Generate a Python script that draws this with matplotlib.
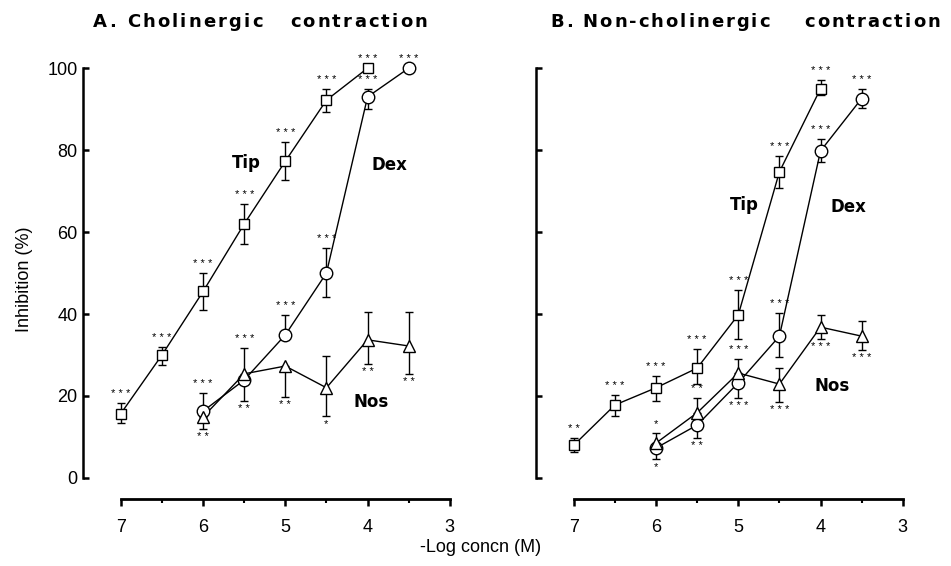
import matplotlib.pyplot as plt
import numpy as np

plt.rcParams['font.family'] = ['Liberation Sans', 'DejaVu Sans']

conc = [7, 6.5, 6, 5.5, 5, 4.5, 4, 3.5]

# ---- panel A: cholinergic contraction ----
a_tip_x = [7, 6.5, 6, 5.5, 5, 4.5, 4]
a_tip_y = [15.7, 30, 45.5, 62, 77.3, 92.2, 100]
a_tip_lo = [2.3, 2.4, 4.5, 4.8, 4.5, 3.0, 0]
a_tip_hi = [2.5, 2.0, 4.4, 4.8, 4.6, 2.8, 0]
a_tip_st = ['***', '***', '***', '***', '***', '***', '***']
a_tip_pos = ['up', 'up', 'up', 'up', 'up', 'up', 'up']

a_dex_x = [6, 5.5, 5, 4.5, 4, 3.5]
a_dex_y = [16.3, 23.9, 34.9, 50, 93, 100]
a_dex_lo = [0, 0, 0, 5.9, 3.0, 0]
a_dex_hi = [4.4, 7.8, 4.9, 6.0, 2.0, 0]
a_dex_st = ['***', '***', '***', '***', '***', '***']
a_dex_pos = ['up', 'up', 'up', 'up', 'up', 'up']

a_nos_x = [6, 5.5, 5, 4.5, 4, 3.5]
a_nos_y = [14.9, 25.4, 27.3, 22, 33.7, 32.2]
a_nos_lo = [2.9, 6.6, 7.5, 6.9, 5.9, 6.8]
a_nos_hi = [0, 0, 0, 7.8, 6.8, 8.3]
a_nos_st = ['**', '**', '**', '*', '**', '**']
a_nos_pos = ['down', 'down', 'down', 'down', 'down', 'down']

# ---- panel B: non-cholinergic contraction ----
b_tip_x = [7, 6.5, 6, 5.5, 5, 4.5, 4]
b_tip_y = [8, 17.8, 22, 26.8, 39.8, 74.7, 95]
b_tip_lo = [1.7, 2.7, 3.2, 3.9, 5.9, 3.9, 1.6]
b_tip_hi = [1.8, 2.4, 2.9, 4.7, 6.1, 3.8, 2.0]
b_tip_st = ['**', '***', '***', '***', '***', '***', '***']
b_tip_pos = ['up', 'up', 'up', 'up', 'up', 'up', 'up']

b_dex_x = [6, 5.5, 5, 4.5, 4, 3.5]
b_dex_y = [7.3, 12.9, 23.2, 34.6, 79.8, 92.6]
b_dex_lo = [2.7, 3.1, 3.7, 5.1, 2.8, 2.2]
b_dex_hi = [0, 0, 0, 5.6, 2.8, 2.2]
b_dex_st = ['*', '**', '***', '***', '***', '***']
b_dex_pos = ['down', 'down', 'down', 'up', 'up', 'up']

b_nos_x = [6, 5.5, 5, 4.5, 4, 3.5]
b_nos_y = [8.5, 15.9, 25.6, 22.9, 36.8, 34.6]
b_nos_lo = [0, 0, 0, 4.4, 2.9, 3.4]
b_nos_hi = [2.5, 3.6, 3.4, 3.9, 3.0, 3.7]
b_nos_st = ['*', '**', '***', '***', '***', '***']
b_nos_pos = ['up', 'up', 'up', 'down', 'down', 'down']

yticks = [0, 20, 40, 60, 80, 100]
xticks = [7, 6, 5, 4, 3]

fig = plt.figure(figsize=(9.51, 5.66), dpi=100)
axA = fig.add_axes([0.0873, 0.118, 0.390, 0.776])
axB = fig.add_axes([0.5636, 0.118, 0.390, 0.776])


def draw_series(ax, x, y, lo, hi, stars, pos, marker, ms):
    ax.plot(x, y, color='black', lw=1.0, zorder=2)
    ax.errorbar(x, y, yerr=[lo, hi], fmt='none', ecolor='black',
                elinewidth=1.0, capsize=3, capthick=1.0, zorder=2)
    ax.plot(x, y, ls='none', marker=marker, ms=ms, mfc='white',
            mec='black', mew=1.0, zorder=3)
    for xi, yi, l, h, s, p in zip(x, y, lo, hi, stars, pos):
        s = ' '.join(s)
        if p == 'up':
            ax.annotate(s, (xi, yi + h), xytext=(0, 3), textcoords='offset points',
                        ha='center', va='bottom', fontsize=8)
        else:
            ax.annotate(s, (xi, yi - l), xytext=(0, -2), textcoords='offset points',
                        ha='center', va='top', fontsize=8)


def style(ax, show_labels):
    ax.set_xlim(7.46, 2.95)
    ax.set_ylim(-5.2, 102)
    for s in ['top', 'right']:
        ax.spines[s].set_visible(False)
    ax.spines['left'].set_bounds(0, 100)
    ax.spines['bottom'].set_bounds(7, 3)
    ax.spines['left'].set_linewidth(1.8)
    ax.spines['bottom'].set_linewidth(2.0)
    ax.set_yticks(yticks)
    ax.set_xticks(xticks)
    ax.set_xticks([6.5, 5.5, 4.5, 3.5], minor=True)
    ax.tick_params(axis='y', direction='in', length=4, width=1.8,
                   labelsize=13, pad=4)
    ax.tick_params(axis='x', which='major', direction='out', length=5,
                   width=1.8, labelsize=13, pad=9)
    ax.tick_params(axis='x', which='minor', direction='out', length=3, width=1.5)
    if not show_labels:
        ax.set_yticklabels([])


def tracked_title(s, x0, x1, y, **kw):
    # letter-spaced title: each glyph placed at its natural prefix offset
    # plus a constant extra tracking so the line spans x0..x1 pixels
    r = fig.canvas.get_renderer()
    W = fig.bbox.width
    probe = fig.text(0, y, '', **kw)

    def width(txt):
        probe.set_text(txt)
        return probe.get_window_extent(r).width

    full = width(s)
    track = (x1 - x0 - full) / (len(s) - 1)
    for i, ch in enumerate(s):
        if ch == ' ':
            continue
        xi = x0 + width(s[:i + 1]) - width(ch) + track * i
        fig.text(xi / W, y, ch, ha='left', va='baseline', **kw)
    probe.remove()


draw_series(axA, a_tip_x, a_tip_y, a_tip_lo, a_tip_hi, a_tip_st, a_tip_pos, 's', 7)
draw_series(axA, a_dex_x, a_dex_y, a_dex_lo, a_dex_hi, a_dex_st, a_dex_pos, 'o', 9)
draw_series(axA, a_nos_x, a_nos_y, a_nos_lo, a_nos_hi, a_nos_st, a_nos_pos, '^', 8)
style(axA, True)
axA.set_ylabel('Inhibition (%)', fontsize=13, labelpad=10)

draw_series(axB, b_tip_x, b_tip_y, b_tip_lo, b_tip_hi, b_tip_st, b_tip_pos, 's', 7)
draw_series(axB, b_dex_x, b_dex_y, b_dex_lo, b_dex_hi, b_dex_st, b_dex_pos, 'o', 9)
draw_series(axB, b_nos_x, b_nos_y, b_nos_lo, b_nos_hi, b_nos_st, b_nos_pos, '^', 8)
style(axB, False)

lab = dict(fontsize=12, fontweight='bold', ha='center', va='center',
           family='DejaVu Sans')
axA.text(5.47, 76.8, 'Tip', **lab)
axA.text(3.74, 76.3, 'Dex', **lab)
axA.text(3.96, 18.5, 'Nos', **lab)
axB.text(4.93, 66.6, 'Tip', **lab)
axB.text(3.66, 66.0, 'Dex', **lab)
axB.text(3.86, 22.4, 'Nos', **lab)

tt = dict(fontsize=13, fontweight='bold', family='DejaVu Sans')
tracked_title('A. Cholinergic   contraction', 93, 427, 0.953, **tt)
tracked_title('B. Non-cholinergic    contraction', 550, 940, 0.953, **tt)
fig.text(0.505, 0.032, '-Log concn (M)', fontsize=13, ha='center', va='center')

plt.savefig('out.png', dpi=100)
